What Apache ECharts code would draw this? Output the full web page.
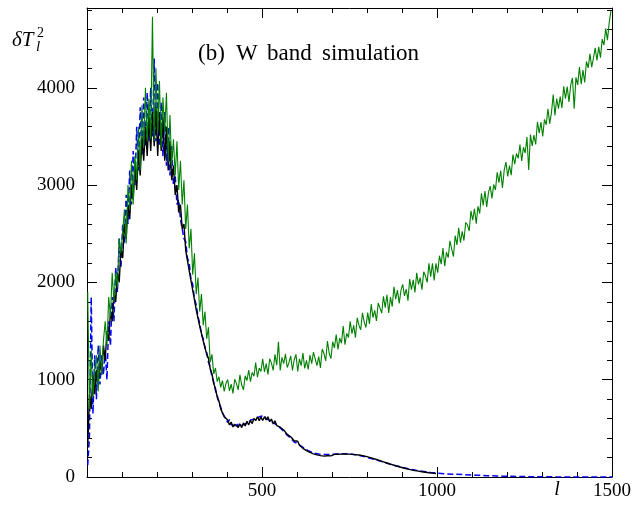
<!DOCTYPE html>
<html><head><meta charset="utf-8">
<script src="https://cdn.jsdelivr.net/npm/echarts@6/dist/echarts.min.js"></script>
<style>html,body{margin:0;padding:0;background:#fff}#c{width:643px;height:508px}</style>
</head><body><div id="c"></div>
<script>
// multipole grid: l = lStart + lStep * i
const lStart = 2, lStep = 5;

// W band simulation with noise (green)
const greenVals = [
1900, 700, 1300, 820, 1100, 1250, 880, 1350, 1050, 1400,
1600, 1350, 1850, 1650, 2100, 1800, 2100, 1950, 2450, 2300,
2300, 2750, 2400, 3000, 2750, 3250, 2800, 3300, 3050, 3600,
3150, 3820, 3390, 4000, 3450, 3890, 3470, 4730, 3450, 4200,
3540, 4070, 3390, 3900, 3550, 3950, 3240, 3720, 3200, 3470,
3100, 3450, 2950, 3250, 2800, 3050, 2550, 2800, 2350, 2550,
2080, 2300, 1880, 2050, 1700, 1880, 1560, 1700, 1420, 1540,
1180, 1260, 1060, 1120, 980, 1030, 920, 990, 880, 960,
1000, 885, 955, 860, 1005, 960, 895, 1050, 945, 895,
1040, 990, 1100, 980, 1075, 1035, 1175, 1025, 1120, 1085,
1215, 1080, 1165, 1055, 1215, 1170, 1095, 1260, 1150, 1390,
1095, 1230, 1165, 1265, 1125, 1175, 1245, 1095, 1205, 1260,
1085, 1215, 1145, 1275, 1115, 1198, 1105, 1253, 1166, 1283,
1280, 1144, 1238, 1122, 1316, 1270, 1194, 1398, 1272, 1216,
1390, 1327, 1464, 1311, 1428, 1375, 1552, 1359, 1476, 1433,
1600, 1474, 1558, 1432, 1636, 1560, 1514, 1688, 1592, 1536,
1690, 1573, 1776, 1639, 1712, 1605, 1788, 1736, 1684, 1857,
1740, 1873, 1686, 1849, 1752, 1955, 1828, 1921, 1784, 1917,
1980, 1861, 1932, 1813, 2034, 1925, 2026, 1897, 2098, 1979,
2050, 1925, 2110, 2065, 2000, 2195, 2060, 2195, 2020, 2195,
2100, 2274, 2188, 2352, 2166, 2310, 2254, 2428, 2342, 2266,
2480, 2386, 2562, 2408, 2524, 2430, 2616, 2592, 2528, 2734,
2640, 2757, 2604, 2781, 2708, 2915, 2792, 2939, 2776, 2923,
2990, 2863, 3006, 2949, 3132, 3025, 3148, 2971, 3154, 3237,
3090, 3201, 3102, 3313, 3214, 3325, 3276, 3417, 3248, 3389,
3330, 3493, 3156, 3519, 3402, 3515, 3418, 3651, 3534, 3647,
3500, 3675, 3620, 3785, 3630, 3745, 3930, 3715, 3890, 3785,
3910, 3793, 4016, 3889, 4012, 3855, 4028, 4101, 3784, 4107,
4030, 4214, 4038, 4182, 4056, 4270, 4204, 4348, 4212, 4306,
4410, 4280, 4420, 4310, 4500, 4440, 4610, 4490, 4670, 4790
];

// black curve (to l ~ 1000)
const blackVals = [
300, 850, 700, 1050, 850, 1100, 950, 1200, 1050, 1350,
1200, 1500, 1400, 1700, 1600, 1900, 1800, 2100, 2000, 2350,
2250, 2600, 2450, 2800, 2650, 3000, 2850, 3200, 2950, 3350,
3100, 3500, 3250, 3600, 3300, 3700, 3350, 3750, 3400, 3800,
3300, 3750, 3350, 3700, 3250, 3600, 3150, 3450, 3050, 3200,
2900, 3000, 2720, 2800, 2550, 2600, 2330, 2330, 2120, 2100,
1920, 1900, 1720, 1700, 1550, 1530, 1400, 1380, 1260, 1220,
1110, 1060, 960, 910, 820, 780, 700, 680, 620, 610,
585, 535, 565, 515, 542, 555, 510, 545, 508, 556,
525, 573, 536, 580, 549, 602, 579, 619, 578, 615,
581, 620, 588, 619, 568, 595, 545, 578, 529, 548,
512, 530, 483, 490, 438, 455, 413, 425, 373, 380,
367, 327, 336, 295, 305, 271, 280, 253, 263, 238,
250, 227, 241, 220, 234, 215, 232, 218, 234, 217,
218, 232, 218, 234, 220, 235, 221, 236, 222, 235,
220, 233, 218, 230, 214, 226, 208, 220, 200, 212,
192, 202, 182, 192, 172, 180, 160, 168, 148, 156,
136, 144, 125, 132, 114, 121, 104, 110, 94, 100,
85, 90, 77, 81, 70, 73, 63, 66, 57, 60,
52, 54, 47, 49, 43, 44, 39, 40, 35, 36
];

// blue dashed curve (to l ~ 1000 on the grid, then tail)
const blueVals = [
120, 420, 1850, 650, 1250, 800, 1350, 950, 1250, 1050,
1300, 1000, 1600, 1350, 1850, 1600, 2150, 1900, 2450, 2150,
2600, 2400, 2900, 2600, 3150, 2800, 3350, 3000, 3600, 3150,
3800, 3300, 3900, 3400, 3950, 3450, 4000, 3500, 4300, 3450,
4050, 3400, 3850, 3300, 3750, 3200, 3600, 3100, 3400, 3000,
3100, 2800, 2850, 2650, 2650, 2450, 2420, 2250, 2200, 2030,
1980, 1830, 1770, 1650, 1580, 1470, 1420, 1330, 1280, 1180,
1130, 1030, 980, 890, 840, 760, 720, 660, 640, 595,
560, 590, 540, 560, 525, 550, 520, 555, 530, 545,
545, 560, 560, 585, 570, 595, 595, 610, 600, 625,
605, 630, 595, 615, 585, 600, 560, 570, 535, 545,
505, 515, 470, 480, 430, 440, 400, 410, 360, 370,
345, 340, 318, 310, 292, 285, 270, 262, 255, 248,
244, 236, 236, 228, 232, 224, 230, 222, 231, 222,
234, 224, 236, 226, 238, 228, 238, 228, 238, 227,
236, 224, 232, 220, 226, 214, 218, 206, 210, 198,
200, 188, 190, 178, 180, 167, 169, 156, 158, 145,
147, 134, 136, 124, 126, 114, 116, 105, 107, 96,
98, 88, 90, 80, 82, 73, 75, 67, 68, 61,
62, 56, 57, 51, 52, 47, 47, 43, 43, 40
];
const blueTailL    = [1020, 1050, 1080, 1110, 1140, 1170, 1200, 1250, 1300, 1350, 1400, 1450, 1500];
const blueTailVals = [33,   28,   24,   19,   14,   10,   7,    4,    2,    1,    0,    0,    0];

const xTickLabels = [500, 1000, 1500];
const yTickLabels = [0, 1000, 2000, 3000, 4000];

function gridPairs(vals) { return vals.map((v, i) => [lStart + lStep * i, v]); }
const greenData = gridPairs(greenVals);
const blackData = gridPairs(blackVals);
const blueData = gridPairs(blueVals).concat(blueTailL.map((l, i) => [l, blueTailVals[i]]));

const FONT = '"Liberation Serif", "Times New Roman", serif';
const X_MIN = 0, X_MAX = 1500, Y_MIN = 0, Y_MAX = 4820;

function xAx(pos, showLine, showLabel) {
  return {
    type: 'value', position: pos, min: X_MIN, max: X_MAX, interval: 500,
    axisLine: { show: showLine, onZero: false, lineStyle: { color: '#000', width: 1 } },
    axisTick: { show: true, inside: true, length: 10, lineStyle: { color: '#000' } },
    minorTick: { show: true, splitNumber: 5, length: 5, lineStyle: { color: '#000' } },
    axisLabel: {
      show: showLabel, margin: 5, fontFamily: FONT, fontSize: 19, color: '#000',
      formatter: v => xTickLabels.includes(v) ? String(v) : ''
    },
    splitLine: { show: false }, minorSplitLine: { show: false }
  };
}
function yAx(pos, interval, tickLen, showLine, showLabel) {
  return {
    type: 'value', position: pos, min: Y_MIN, max: Y_MAX, interval: interval,
    axisLine: { show: showLine, onZero: false, lineStyle: { color: '#000', width: 1 } },
    axisTick: { show: true, inside: true, length: tickLen, lineStyle: { color: '#000' } },
    axisLabel: {
      show: showLabel, margin: 12, fontFamily: FONT, fontSize: 19, color: '#000',
      formatter: v => yTickLabels.includes(v) ? String(v) : ''
    },
    splitLine: { show: false }
  };
}

const chart = echarts.init(document.getElementById('c'), null, { renderer: 'canvas' });
chart.setOption({
  animation: false,
  backgroundColor: '#fff',
  grid: { left: 87, top: 8, width: 525, height: 469, containLabel: false },
  xAxis: [xAx('bottom', true, true), xAx('top', true, false)],
  yAxis: [
    yAx('left', 1000, 10, true, true),
    yAx('left', 200, 5, false, false),
    yAx('right', 1000, 10, true, false),
    yAx('right', 200, 5, false, false)
  ],
  series: [
    { name: 'blue', type: 'line', data: blueData, xAxisIndex: 0, yAxisIndex: 0, showSymbol: false, symbol: 'none',
      lineStyle: { color: '#0000ff', width: 1.5, type: [6, 3] }, z: 2 },
    { name: 'black', type: 'line', data: blackData, xAxisIndex: 0, yAxisIndex: 0, showSymbol: false, symbol: 'none',
      lineStyle: { color: '#000000', width: 1.4 }, z: 3 },
    { name: 'green', type: 'line', data: greenData, xAxisIndex: 0, yAxisIndex: 0, showSymbol: false, symbol: 'none',
      lineStyle: { color: '#008000', width: 1.1 }, z: 4 }
  ],
  graphic: [
    { type: 'text', x: 12, y: 40, style: { text: 'δT', font: 'italic 21px ' + FONT, fill: '#000', align: 'left', verticalAlign: 'middle' } },
    { type: 'text', x: 37, y: 33, style: { text: '2', font: '14px ' + FONT, fill: '#000', align: 'left', verticalAlign: 'middle' } },
    { type: 'text', x: 36, y: 47, style: { text: 'l', font: 'italic 15px ' + FONT, fill: '#000', align: 'left', verticalAlign: 'middle' } },
    { type: 'text', x: 198, y: 54, style: { text: '(b)', font: '23px ' + FONT, fill: '#000', align: 'left', verticalAlign: 'middle' } },
    { type: 'text', x: 236, y: 54, style: { text: 'W', font: '23px ' + FONT, fill: '#000', align: 'left', verticalAlign: 'middle' } },
    { type: 'text', x: 267, y: 54, style: { text: 'band', font: '23px ' + FONT, fill: '#000', align: 'left', verticalAlign: 'middle' } },
    { type: 'text', x: 322, y: 54, style: { text: 'simulation', font: '23px ' + FONT, fill: '#000', align: 'left', verticalAlign: 'middle' } },
    { type: 'text', x: 557, y: 490, style: { text: 'l', font: 'italic 20px ' + FONT, fill: '#000', align: 'center', verticalAlign: 'middle' } }
  ]
});
</script>
</body></html>
